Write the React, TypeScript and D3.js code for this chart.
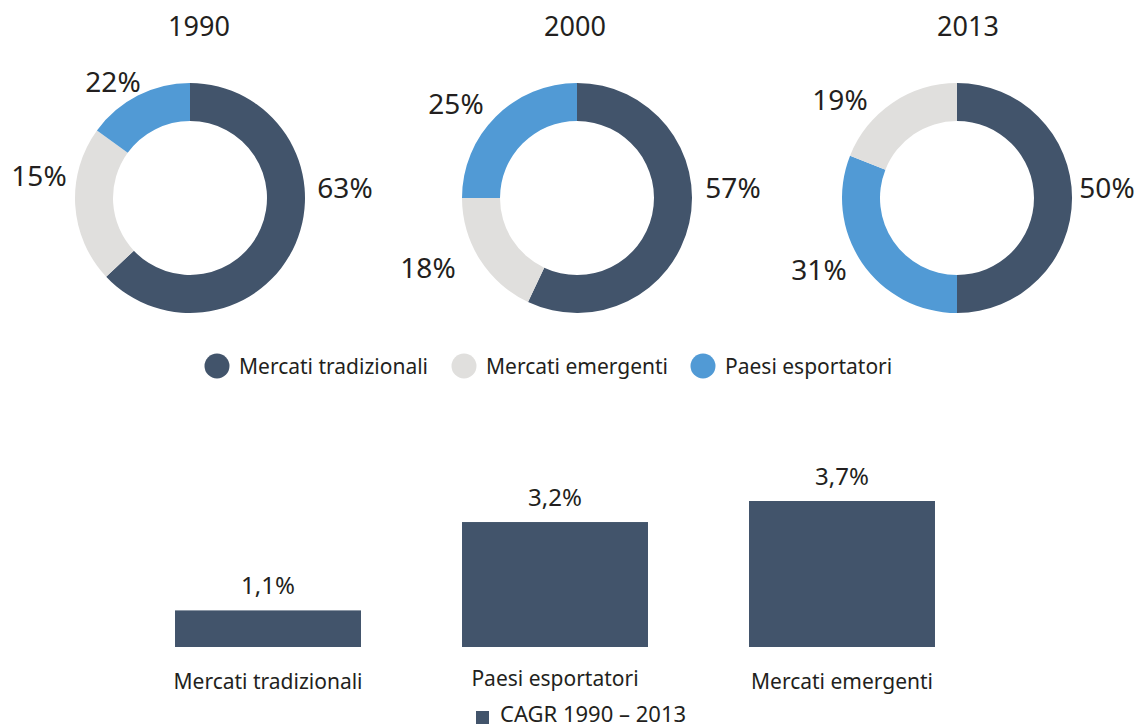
import { useEffect, useRef } from "react";
import * as d3 from "d3";

// donut data, one value per year (as printed in the labels)
const years = ["1990", "2000", "2013"];
const tradizionali = [63, 57, 50];
const emergenti = [15, 18, 19];
const esportatori = [22, 25, 31];
// drawing order of the slices (clockwise from 12 o'clock) for each year
const sliceOrder = [
  ["tradizionali", "emergenti", "esportatori"],
  ["tradizionali", "emergenti", "esportatori"],
  ["tradizionali", "esportatori", "emergenti"],
];
// the reference draws the 1990 emergenti / esportatori arcs with each other's share
const arcSwap = [true, false, false];

// bar data
const barCategories = ["Mercati tradizionali", "Paesi esportatori", "Mercati emergenti"];
const cagr = [1.1, 3.2, 3.7];
const barLegend = "CAGR 1990 – 2013";

const legendNames = ["Mercati tradizionali", "Mercati emergenti", "Paesi esportatori"];

const W = 1145;
const H = 727;
const FONT = "'Noto Sans', sans-serif";
const TEXT = "#231f20";

const color = d3
  .scaleOrdinal<string, string>()
  .domain(["tradizionali", "emergenti", "esportatori"])
  .range(["#42546b", "#e0dfdd", "#519ad5"]);

// layout of each donut: center, title position and label offsets (by series key)
const donutLayout = [
  { cx: 190, cy: 198, tx: 199, labels: { esportatori: [-77, -106], emergenti: [-151, -12], tradizionali: [155, 0] } },
  { cx: 577, cy: 198, tx: 575, labels: { esportatori: [-121, -84], emergenti: [-149, 80], tradizionali: [156, 0] } },
  { cx: 957, cy: 198, tx: 968, labels: { emergenti: [-117, -88], esportatori: [-138, 82], tradizionali: [150, 0] } },
];

const seriesValues: Record<string, number[]> = { tradizionali, emergenti, esportatori };
const swapKey: Record<string, string> = {
  tradizionali: "tradizionali",
  emergenti: "esportatori",
  esportatori: "emergenti",
};

const App = () => {
  const ref = useRef<HTMLDivElement>(null);

  useEffect(() => {
    d3.select(ref.current).selectAll("*").remove();
    const svg = d3
      .select(ref.current)
      .append("svg")
      .attr("width", W)
      .attr("height", H)
      .style("position", "absolute")
      .style("left", 0)
      .style("top", 0)
      .style("background", "#fff")
      .style("font-family", FONT);

    // ==== donuts
    const pie = d3
      .pie<{ key: string; value: number; arcValue: number }>()
      .sort(null)
      .value((d) => d.arcValue);
    const arc = d3
      .arc<d3.PieArcDatum<{ key: string; value: number; arcValue: number }>>()
      .innerRadius(77)
      .outerRadius(115);

    years.forEach((year, i) => {
      const lay = donutLayout[i];
      const slices = sliceOrder[i].map((key) => ({
        key,
        value: seriesValues[key][i],
        arcValue: seriesValues[arcSwap[i] ? swapKey[key] : key][i],
      }));
      const g = svg.append("g").attr("transform", `translate(${lay.cx},${lay.cy})`);

      g.selectAll("path")
        .data(pie(slices))
        .enter()
        .append("path")
        .attr("d", arc)
        .attr("fill", (d) => color(d.data.key));

      g.selectAll("text.pct")
        .data(slices)
        .enter()
        .append("text")
        .attr("class", "pct")
        .attr("x", (d) => (lay.labels as any)[d.key][0])
        .attr("y", (d) => (lay.labels as any)[d.key][1])
        .attr("text-anchor", "middle")
        .attr("font-size", 28)
        .attr("fill", TEXT)
        .text((d) => `${d.value}%`);

      svg
        .append("text")
        .attr("x", lay.tx)
        .attr("y", 36)
        .attr("text-anchor", "middle")
        .attr("font-size", 27)
        .attr("fill", TEXT)
        .text(year);
    });

    // ==== donut legend
    const legendX = [217, 464, 703];
    const legend = svg
      .selectAll(".legend")
      .data(legendNames)
      .enter()
      .append("g")
      .attr("class", "legend")
      .attr("transform", (d, i) => `translate(${legendX[i]},366)`);
    legend
      .append("circle")
      .attr("r", 12.5)
      .attr("fill", (d, i) => color(color.domain()[i]));
    legend
      .append("text")
      .attr("x", 22)
      .attr("y", 8)
      .attr("font-size", 21)
      .attr("fill", TEXT)
      .text((d) => d);

    // ==== bar chart
    const x = d3
      .scaleBand()
      .domain(barCategories)
      .range([124.5, 985.5])
      .paddingInner(0.352)
      .paddingOuter(0.176);
    const y = d3.scaleLinear().domain([0.23, 3.7]).range([647, 501]);

    const bars = svg
      .selectAll(".bar")
      .data(barCategories)
      .enter()
      .append("g")
      .attr("class", "bar");

    bars
      .append("rect")
      .attr("x", (d) => x(d)!)
      .attr("width", x.bandwidth())
      .attr("y", (d, i) => y(cagr[i]))
      .attr("height", (d, i) => y(0.23) - y(cagr[i]))
      .attr("fill", color("tradizionali"));

    bars
      .append("text")
      .attr("x", (d) => x(d)! + x.bandwidth() / 2)
      .attr("y", (d, i) => y(cagr[i]) - 16)
      .attr("text-anchor", "middle")
      .attr("font-size", 24)
      .attr("fill", TEXT)
      .text((d, i) => `${d3.format(".1f")(cagr[i]).replace(".", ",")}%`);

    bars
      .append("text")
      .attr("x", (d) => x(d)! + x.bandwidth() / 2)
      .attr("y", (d, i) => (i === 1 ? 686 : 689))
      .attr("text-anchor", "middle")
      .attr("font-size", 21)
      .attr("fill", TEXT)
      .text((d) => d);

    // bar legend
    svg
      .append("rect")
      .attr("x", 476)
      .attr("y", 711)
      .attr("width", 13)
      .attr("height", 13)
      .attr("fill", color("tradizionali"));
    svg
      .append("text")
      .attr("x", 500)
      .attr("y", 722)
      .attr("font-size", 22)
      .attr("fill", TEXT)
      .text(barLegend);
  }, []);

  return <div ref={ref}></div>;
};

export default App;
